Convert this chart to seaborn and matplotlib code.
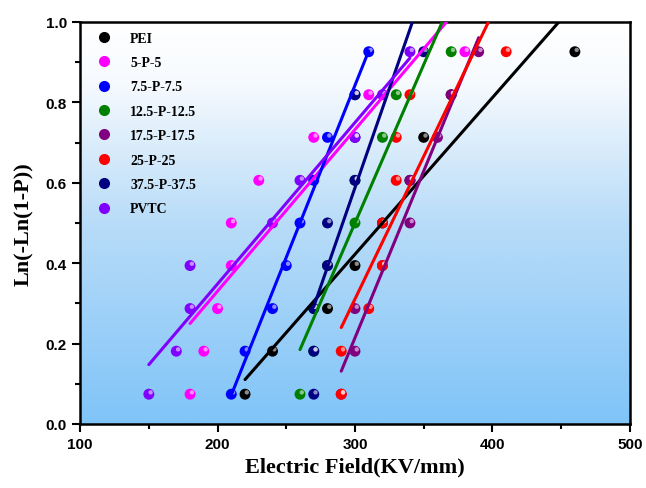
import numpy as np
import pandas as pd
import matplotlib
matplotlib.use("Agg")
import matplotlib.pyplot as plt
import seaborn as sns
from matplotlib.colors import LinearSegmentedColormap
from matplotlib.transforms import offset_copy
from matplotlib.lines import Line2D
from matplotlib.ticker import MultipleLocator, FormatStrFormatter

sns.set_style("ticks", {"axes.edgecolor": "black", "xtick.color": "black",
                        "ytick.color": "black", "text.color": "black",
                        "axes.labelcolor": "black"})

# median ranks (i-0.3)/(n+0.4), n = 9
prob = [0.074, 0.181, 0.287, 0.394, 0.500, 0.606, 0.713, 0.819, 0.926]

labels = ["PEI", "5-P-5", "7.5-P-7.5", "12.5-P-12.5", "17.5-P-17.5",
          "25-P-25", "37.5-P-37.5", "PVTC"]
colors = ["#000000", "#ff00ff", "#0000ff", "#008000", "#800080",
          "#ff0000", "#000080", "#8000ff"]

pei = [220, 240, 280, 300, 320, 340, 350, 370, 460]
p5 = [180, 190, 200, 210, 210, 230, 270, 310, 380]
p75 = [210, 220, 240, 250, 260, 270, 280, 300, 310]
p125 = [260, 270, 270, 280, 300, 300, 320, 330, 370]
p175 = [290, 300, 300, 320, 340, 340, 360, 370, 390]
p25 = [290, 290, 310, 320, 320, 330, 330, 340, 410]
p375 = [270, 270, 270, 280, 280, 300, 300, 300, 350]
pvtc = [150, 170, 180, 180, 240, 260, 300, 320, 340]

fields = [pei, p5, p75, p125, p175, p25, p375, pvtc]

df = pd.concat([pd.DataFrame({"E": f, "P": prob, "sample": lab})
                for f, lab in zip(fields, labels)], ignore_index=True)

fig, ax = plt.subplots(figsize=(6.46, 4.89), dpi=100)
fig.subplots_adjust(left=0.124, right=0.975, top=0.953, bottom=0.131)

# white-to-sky-blue background
bg = LinearSegmentedColormap.from_list(
    "bg", [(0.0, "#80c4f8"), (0.5, "#b8dcf8"), (0.85, "#f6fafe"), (1.0, "#ffffff")])
grad = np.linspace(0, 1, 256).reshape(-1, 1)
ax.imshow(grad, extent=[100, 500, 0, 1], origin="lower", aspect="auto",
          cmap=bg, zorder=0)

pal = dict(zip(labels, colors))
sns.scatterplot(data=df, x="E", y="P", hue="sample", hue_order=labels,
                palette=pal, s=62, edgecolor="none", legend=False,
                ax=ax, zorder=2)
# little shine on each ball
shine = offset_copy(ax.transData, fig=fig, x=1.3, y=1.3, units="points")
ax.scatter(df["E"], df["P"], s=10, color="white", alpha=0.55,
           edgecolor="none", transform=shine, zorder=3)

for f, lab in zip(fields, labels):
    sns.regplot(x=f, y=prob, scatter=False, ci=None, truncate=True,
                color=pal[lab], line_kws={"lw": 2.2, "zorder": 4}, ax=ax)

ax.set_xlim(100, 500)
ax.set_ylim(0, 1.0)
ax.xaxis.set_major_locator(MultipleLocator(100))
ax.xaxis.set_minor_locator(MultipleLocator(50))
ax.yaxis.set_major_locator(MultipleLocator(0.2))
ax.yaxis.set_minor_locator(MultipleLocator(0.1))
ax.yaxis.set_major_formatter(FormatStrFormatter("%.1f"))

ax.tick_params(which="major", direction="out", length=6, width=1.5,
               labelsize=11, top=False, right=False, colors="black")
ax.tick_params(which="minor", direction="out", length=3.5, width=1.5,
               top=False, right=False, colors="black")
for t in ax.get_xticklabels() + ax.get_yticklabels():
    t.set_fontweight("bold")
    t.set_family("Liberation Sans")
for sp in ax.spines.values():
    sp.set_linewidth(1.8)
    sp.set_color("black")
    sp.set_visible(True)

ax.set_xlabel("Electric Field(KV/mm)", fontsize=16, fontweight="bold",
              family="Liberation Serif", labelpad=4, color="black")
ax.set_ylabel("Ln(-Ln(1-P))", fontsize=16, fontweight="bold",
              family="Liberation Serif", labelpad=8, color="black")

handles = [Line2D([], [], ls="none", marker="o", ms=8, mfc=c, mec="none")
           for c in colors]
leg = ax.legend(handles, labels, loc="upper left", frameon=False,
                prop={"family": "Liberation Serif", "weight": "bold", "size": 10},
                labelspacing=0.82, handletextpad=0.9, borderaxespad=0.3,
                bbox_to_anchor=(0.0, 1.0))
for t in leg.get_texts():
    t.set_color("black")

fig.savefig("out.png", dpi=100)
